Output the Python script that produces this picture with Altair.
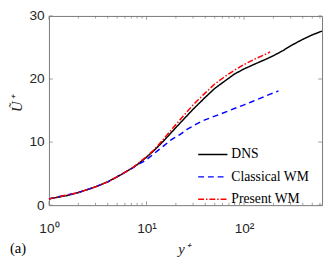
import altair as alt
import pandas as pd

series_names = ["DNS", "Classical WM", "Present WM"]
series_colors = ["#000000", "#0000FF", "#FF0000"]

dns_yp = [1, 1.5, 2, 3, 4, 5, 6, 7, 8, 10, 12, 15, 20, 25, 30, 40, 50, 65, 80, 100, 130, 160, 200, 250, 320, 400, 500, 630]
dns_u = [1.0, 1.5, 2.0, 2.9, 3.7, 4.5, 5.2, 5.8, 6.4, 7.6, 8.7, 10.2, 12.3, 13.9, 15.2, 17.1, 18.5, 19.8, 20.8, 21.6, 22.4, 23.0, 23.7, 24.5, 25.5, 26.3, 27.0, 27.6]

cwm_yp = [1, 2, 3, 4, 5, 6, 7, 8, 9, 10, 12, 15, 18, 22, 26, 32, 38, 46, 56, 68, 82, 100, 120, 150, 185, 225]
cwm_u = [1.0, 2.0, 2.9, 3.7, 4.5, 5.2, 5.8, 6.35, 6.8, 7.2, 8.2, 9.4, 10.4, 11.2, 12.0, 12.8, 13.4, 13.9, 14.4, 14.9, 15.4, 15.9, 16.4, 17.0, 17.6, 18.1]

pwm_yp = [1, 2, 3, 4, 5, 6, 7, 8, 10, 12, 15, 20, 25, 30, 40, 50, 65, 80, 100, 130, 160, 185]
pwm_u = [1.0, 2.0, 2.9, 3.7, 4.5, 5.2, 5.8, 6.5, 7.7, 8.8, 10.5, 12.8, 14.5, 15.9, 17.8, 19.2, 20.5, 21.4, 22.3, 23.2, 23.8, 24.3]

x_major = [1, 10, 100]
x_minor = [2, 3, 4, 5, 6, 7, 8, 9, 20, 30, 40, 50, 60, 70, 80, 90, 200, 300, 400, 500, 600]
y_major = [0, 10, 20, 30]
x_min, x_max = 1, 630
y_min, y_max = 0, 30

rows = []
for name, xs, ys in [("DNS", dns_yp, dns_u), ("Classical WM", cwm_yp, cwm_u), ("Present WM", pwm_yp, pwm_u)]:
    for i, (a, b) in enumerate(zip(xs, ys)):
        rows.append({"series": name, "yp": a, "u": b, "order": i})
df = pd.DataFrame(rows)

xscale = alt.Scale(type="log", domain=[x_min, x_max], nice=False)
yscale = alt.Scale(domain=[y_min, y_max], nice=False, zero=False)
axis_color = "#777777"

lines = alt.Chart(df).mark_line(strokeWidth=1.5).encode(
    x=alt.X("yp:Q", scale=xscale, title="y⁺",
            axis=alt.Axis(values=x_major, ticks=False, domain=False, grid=False,
                          labelExpr="datum.value == 1 ? '10⁰' : datum.value == 10 ? '10¹' : '10²'",
                          labelFont="Liberation Sans", labelFontSize=14, labelColor="#262626",
                          labelPadding=17, labelFlush=False,
                          titleFont="Liberation Serif", titleFontStyle="italic", titleFontWeight="normal",
                          titleFontSize=15, titleColor="#262626", titlePadding=7, titleX=138)),
    y=alt.Y("u:Q", scale=yscale, title="Ũ⁺",
            axis=alt.Axis(values=y_major, ticks=False, domain=False, grid=False,
                          labelFont="Liberation Sans", labelFontSize=14, labelColor="#262626",
                          labelPadding=5, labelFlush=False,
                          titleFont="Liberation Serif", titleFontStyle="italic", titleFontWeight="normal",
                          titleFontSize=15, titleColor="#262626", titleAngle=-90,
                          titleX=-33, titleY=90, titleAlign="center", titleBaseline="middle")),
    color=alt.Color("series:N", scale=alt.Scale(domain=series_names, range=series_colors),
                    legend=alt.Legend(title=None, orient="none", legendX=152, legendY=126,
                                      symbolType="stroke", symbolSize=900, symbolStrokeWidth=1.5,
                                      labelFont="Liberation Serif", labelFontSize=14, labelColor="#000000",
                                      rowPadding=-12, labelOffset=3, padding=0)),
    strokeDash=alt.StrokeDash("series:N", scale=alt.Scale(domain=series_names, range=[[1, 0], [6, 4], [6, 2, 1.5, 2]]),
                              legend=None),
    order="order:Q",
)

xt_major = pd.DataFrame({"v": x_major})
xt_minor = pd.DataFrame({"v": x_minor})
yt_major = pd.DataFrame({"v": y_major})

def xticks(data, size, yval, off):
    return alt.Chart(data).mark_tick(orient="vertical", size=size, thickness=1, color=axis_color, yOffset=off).encode(
        x=alt.X("v:Q", scale=xscale), y=alt.datum(yval, scale=yscale))

def yticks(data, size, xval, off):
    return alt.Chart(data).mark_tick(orient="horizontal", size=size, thickness=1, color=axis_color, xOffset=off).encode(
        y=alt.Y("v:Q", scale=yscale), x=alt.datum(xval, scale=xscale))

ticks = [
    xticks(xt_major, 4, y_min, -2), xticks(xt_minor, 2.5, y_min, -1.25),
    xticks(xt_major, 4, y_max, 2), xticks(xt_minor, 2.5, y_max, 1.25),
    yticks(yt_major, 4, x_min, 2), yticks(yt_major, 4, x_max, -2),
]

chart = alt.layer(lines, *ticks).properties(
    width=280, height=194,
    autosize=alt.AutoSizeParams(type="none"),
    padding={"left": 42, "top": 5, "right": 2, "bottom": 50},
    title=alt.TitleParams("(a)", orient="bottom", anchor="start", frame="bounds", dx=0, offset=-16,
                          font="Liberation Serif", fontSize=15, fontWeight="normal", color="#000000"),
).configure_view(stroke=axis_color, strokeWidth=1).resolve_scale(color="shared")

chart.save("out.html", embed_options={"renderer": "svg", "actions": False})
